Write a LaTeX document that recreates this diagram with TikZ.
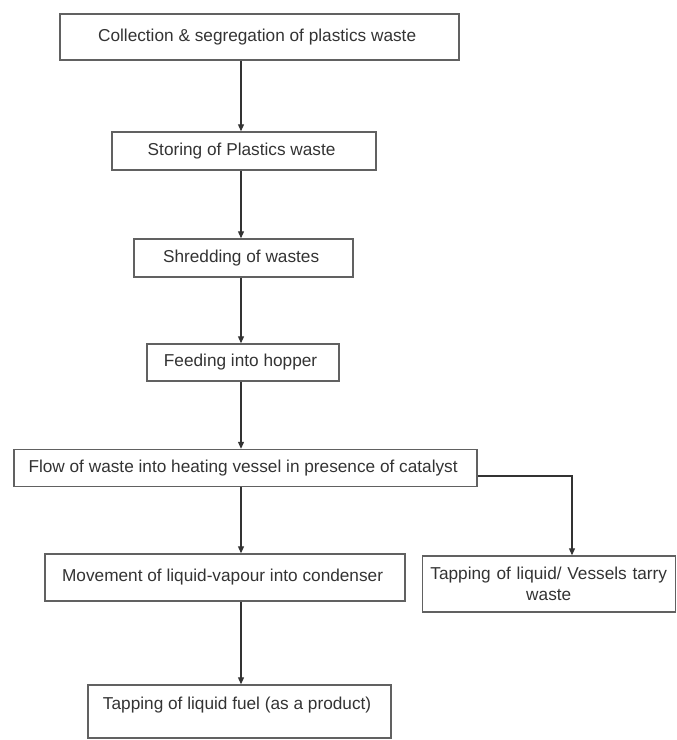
\documentclass[tikz,border=0pt]{standalone}
\usepackage{fontspec}
\setmainfont{Liberation Sans}
\usetikzlibrary{arrows.meta}
\colorlet{anthracite}{black!80}
\colorlet{boxgray}{black!62}
\tikzstyle{process} = [%
	rectangle,
	draw=boxgray,
	line width=1.4bp,
	inner sep=0pt,
	align=center,
	text=anthracite,
	font=\fontsize{17.3}{21}\selectfont
]
\tikzstyle{flow} = [%
	->,
	>={Triangle[length=7bp,width=6bp]},
	draw=anthracite,
	line width=1.1bp
]

\begin{document}
\begin{tikzpicture}[x=1bp, y=-1bp]
\useasboundingbox (0,0) rectangle (677,740);

% main chain of steps
\node[process, minimum width=399bp, minimum height=46bp] (collect) at (259.5,37) {%
	Collection \& segregation of plastics waste
};
\node[process, minimum width=264bp, minimum height=38bp] (store) at (244,151) {%
	Storing of Plastics waste
};
\node[process, minimum width=219bp, minimum height=38bp] (shred) at (243.5,258) {%
	Shredding of wastes
};
\node[process, minimum width=192bp, minimum height=37bp] (feed) at (243,362.5) {%
	Feeding into hopper
};
\node[process, minimum width=463bp, minimum height=37bp] (heat) at (245.5,468) {%
	Flow of waste into heating vessel in presence of catalyst
};
\node[process, minimum width=360bp, minimum height=47bp] (condense) at (225,577.5) {%
	Movement of liquid-vapour into condenser
};
\node[process, minimum width=303bp, minimum height=53bp, text height=24bp, text depth=29bp] (fuel) at (239.5,711.5) {%
	Tapping of liquid fuel (as a product)
};

% side branch
\node[process, text width=253bp, minimum height=56bp] (tarry) at (548.75,584) {%
	Tapping of liquid/ Vessels tarry\\waste
};

% connectors
\coordinate (spine) at (241,0);
\draw[flow] (collect.south -| spine) -- (store.north -| spine);
\draw[flow] (store.south -| spine) -- (shred.north -| spine);
\draw[flow] (shred.south -| spine) -- (feed.north -| spine);
\draw[flow] (feed.south -| spine) -- (heat.north -| spine);
\draw[flow] (heat.south -| spine) -- (condense.north -| spine);
\draw[flow] (condense.south -| spine) -- (fuel.north -| spine);

\coordinate (branch) at (572,476);
\draw[flow] (heat.east |- branch) -- (branch) -- (tarry.north -| branch);

\end{tikzpicture}
\end{document}
